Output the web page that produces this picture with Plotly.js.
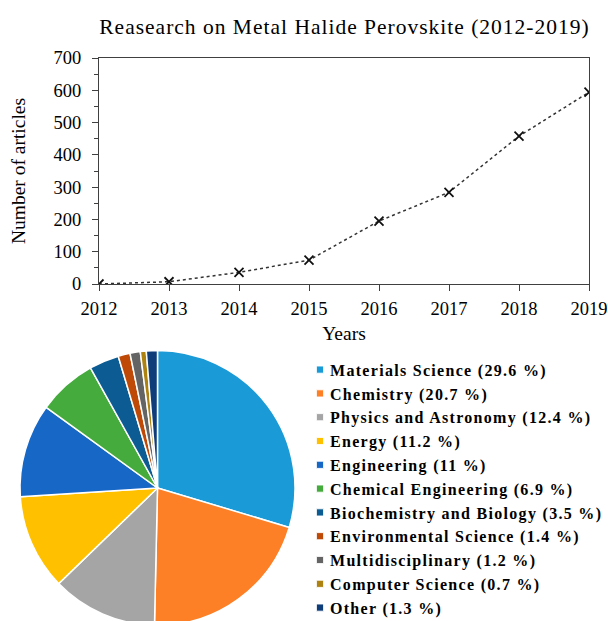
<!DOCTYPE html>
<html>
<head>
<meta charset="utf-8">
<script src="https://cdn.plot.ly/plotly-3.0.1.min.js"></script>
<style>
html, body { margin: 0; padding: 0; overflow: hidden; background: #fff; }
#chart { width: 608px; height: 630px; }
.gtitle { letter-spacing: 1px; }
.legendtext { letter-spacing: 1.3px; }
.legendpie { transform: translate(30px, 0px) scale(0.6); }
</style>
</head>
<body>
<div id="chart"></div>
<script>
// ---- data ----
const years = [2012, 2013, 2014, 2015, 2016, 2017, 2018, 2019];
const articles = [0, 7, 36, 74, 195, 284, 458, 594];

const subjects = [
  "Materials Science", "Chemistry", "Physics and Astronomy", "Energy",
  "Engineering", "Chemical Engineering", "Biochemistry and Biology",
  "Environmental Science", "Multidisciplinary", "Computer Science", "Other"
];
const shares = [29.6, 20.7, 12.4, 11.2, 11, 6.9, 3.5, 1.4, 1.2, 0.7, 1.3];
const sliceColors = [
  "#1a9ad6", "#fd7f26", "#a5a5a5", "#ffc000", "#1767c7", "#44ab3c",
  "#0c5b93", "#bf4a08", "#646464", "#ad8210", "#0e3d7a"
];

// ---- layout helpers (pixel -> paper) ----
const W = 608, H = 630;
const px = v => v / W;
const py = v => (H - v) / H;

const serif = "Liberation Serif, Times New Roman, serif";
const axisColor = "#404040";

const lineTrace = {
  type: "scatter",
  mode: "lines+markers",
  x: years,
  y: articles,
  xaxis: "x",
  yaxis: "y",
  showlegend: false,
  line: { color: "#333333", width: 1.5, dash: "dot" },
  marker: { symbol: "x-thin-open", size: 9, color: "#111111", line: { color: "#111111", width: 1.8 } },
  hoverinfo: "x+y"
};

const pieTrace = {
  type: "pie",
  labels: subjects.map((s, i) => "<b>" + s + " (" + shares[i] + " %)</b>"),
  values: shares,
  sort: false,
  direction: "clockwise",
  rotation: 0,
  textinfo: "none",
  marker: { colors: sliceColors, line: { color: "#ffffff", width: 1.5 } },
  domain: { x: [px(20), px(295)], y: [py(625.5), py(350.5)] },
  showlegend: true,
  hoverinfo: "label"
};

const layout = {
  width: W,
  height: H,
  margin: { l: 0, r: 0, t: 0, b: 0 },
  paper_bgcolor: "#ffffff",
  plot_bgcolor: "#ffffff",
  font: { family: serif, color: "#000000" },
  title: {
    text: "Reasearch on Metal Halide Perovskite (2012-2019)",
    font: { family: serif, size: 21.5, color: "#000000" },
    xref: "paper", yref: "paper",
    x: px(344.5), y: py(26.5), xanchor: "center", yanchor: "middle"
  },
  xaxis: {
    domain: [px(99), px(589)],
    range: [2012, 2019],
    dtick: 1,
    tick0: 2012,
    showgrid: false,
    zeroline: false,
    showline: true,
    mirror: true,
    linecolor: axisColor,
    linewidth: 1,
    ticks: "outside",
    ticklen: 6,
    tickcolor: axisColor,
    ticklabelstandoff: 2,
    tickfont: { family: serif, size: 18.5, color: "#000000" },
    title: { text: "Years", font: { family: serif, size: 19.5, color: "#000000" }, standoff: 8 },
    anchor: "y",
    fixedrange: true
  },
  yaxis: {
    domain: [py(284), py(58)],
    range: [0, 700],
    dtick: 100,
    showgrid: false,
    zeroline: false,
    showline: true,
    mirror: true,
    linecolor: axisColor,
    linewidth: 1,
    ticks: "outside",
    ticklen: 6,
    tickcolor: axisColor,
    ticklabelstandoff: 7,
    tickfont: { family: serif, size: 18.5, color: "#000000" },
    minor: { dtick: 50, ticks: "outside", ticklen: 4, tickcolor: axisColor, showgrid: false },
    title: { text: "Number of articles", font: { family: serif, size: 19.5, color: "#000000" }, standoff: 22 },
    anchor: "x",
    fixedrange: true
  },
  legend: {
    x: px(290), y: py(352.7),
    xanchor: "left", yanchor: "top",
    font: { family: serif, size: 16, color: "#000000" },
    bgcolor: "rgba(0,0,0,0)",
    traceorder: "normal"
  },
  showlegend: true
};

Plotly.newPlot("chart", [lineTrace, pieTrace], layout, { displayModeBar: false, staticPlot: true });
</script>
</body>
</html>
